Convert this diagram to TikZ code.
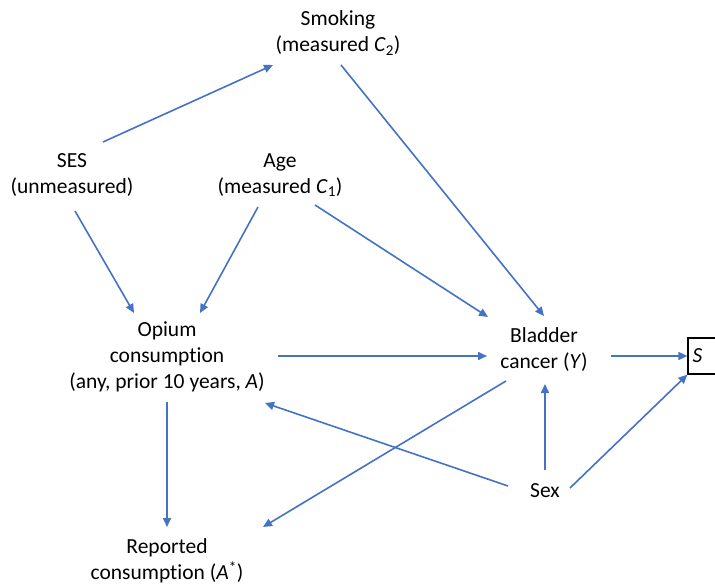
\documentclass[tikz,border=0pt]{standalone}
\usepackage{fontspec}
\setmainfont{Carlito}[Ligatures=CommonOff]
\usetikzlibrary{arrows.meta,calc}
\definecolor{offblue}{HTML}{4472C4}
\begin{document}
\begin{tikzpicture}[x=1pt,y=-1pt,
  lbl/.style={align=center,inner sep=0pt,font=\fontsize{21.5}{26}\selectfont},
  arr/.style={draw=offblue,line width=1.6pt,-{Triangle[length=9pt,width=8pt]}},
  sbox/.style={draw=black,line width=1.2pt,minimum width=36pt,minimum height=36pt,inner sep=0pt,font=\fontsize{21.5}{26}\selectfont}]
\useasboundingbox[fill=white] (0,0) rectangle (715,585);
\node[lbl] (smoking) at (338,33) {Smoking\\(measured \textit{C}\textsubscript{2})};
\node[lbl] (ses) at (72,175) {SES\\(unmeasured)};
\node[lbl] (age) at (280,175) {Age\\(measured \textit{C}\textsubscript{1})};
\node[lbl] (opium) at (167,357) {Opium\\consumption\\(any, prior 10 years, \textit{A})};
\node[lbl] (bladder) at (544,350) {Bladder\\cancer (\textit{Y})};
\node[sbox] (s) at (706,356) {\hspace*{-17pt}\textit{S}};
\node[lbl] (sex) at (545,491) {Sex};
\node[lbl] (reported) at (167,561) {Reported\\consumption (\textit{A}\textsuperscript{*})};
% connectors
\draw[arr] ($(ses)+(31,-33)$) -- ($(smoking)+(-65,32)$);
\draw[arr] ($(smoking)+(3,32)$) -- ($(bladder)+(0,-34)$);
\draw[arr] ($(ses)+(3,36)$) -- ($(opium)+(-33,-44)$);
\draw[arr] ($(age)+(-22,32)$) -- ($(opium)+(33,-44)$);
\draw[arr] ($(age)+(35,30)$) -- ($(bladder)+(-56,-33)$);
\draw[arr] ($(opium)+(111,-1)$) -- ($(bladder)+(-57,6)$);
\draw[arr] ($(bladder)+(67,6)$) -- (s.west);
\draw[arr] ($(opium)+(0,45)$) -- ($(reported)+(0,-34)$);
\draw[arr] ($(bladder)+(-38,31)$) -- ($(reported)+(96,-34)$);
\draw[arr] ($(sex)+(-37,-5)$) -- ($(opium)+(98,46)$);
\draw[arr] ($(sex)+(0,-21)$) -- ($(bladder)+(1,34)$);
\draw[arr] ($(sex)+(25,-3)$) -- (s.south west);
\end{tikzpicture}
\end{document}
